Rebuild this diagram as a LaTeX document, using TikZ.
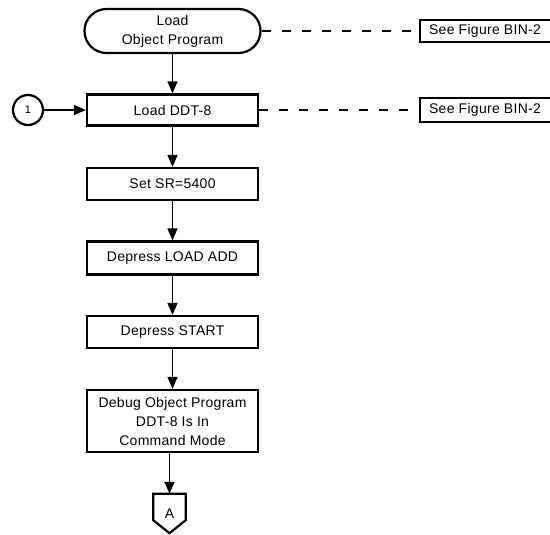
\documentclass[tikz,border=0pt]{standalone}
\usepackage{fontspec}
\setmainfont[LetterSpace=2]{Liberation Sans}
\usetikzlibrary{arrows.meta,calc}

\begin{document}
\begin{tikzpicture}[x=1pt, y=-1pt, font=\fontsize{14}{19}\selectfont,
  flowbox/.style={draw, line width=2.2pt, minimum width=171pt,
    minimum height=32pt, align=center, inner sep=0pt},
  termbox/.style={flowbox, minimum width=176pt, minimum height=44pt,
    rounded corners=22pt},
  refbox/.style={minimum width=130pt, minimum height=22pt, inner sep=0pt},
  flow/.style={line width=1.5pt, -{Triangle[length=12pt,width=10pt]}},
  seeline/.style={line width=1.5pt, dash pattern=on 9pt off 11pt}]

  % page frame (550 x 535)
  \useasboundingbox (0,0) rectangle (550,535);

  % -------------------------------------------------------
  % Main column, x = 172.5
  % -------------------------------------------------------
  \node[termbox] (obj) at (172.5, 31) {Load\\Object Program};
  \node[flowbox, minimum height=31pt] (ddt) at (172.5, 110) {Load DDT-8};
  \node[flowbox] (sr) at (172.5, 184) {Set SR=5400};
  \node[flowbox, minimum height=33pt] (ldadd) at (172.5, 258) {Depress LOAD ADD};
  \node[flowbox] (start) at (172.5, 332) {Depress START};
  \node[flowbox, minimum height=62pt] (debug) at (172.5, 421)
    {Debug Object Program\\DDT-8 Is In\\Command Mode};

  % Off-page connector (top 494, sides to 520, point at 533)
  \node[minimum width=32pt, minimum height=39pt, inner sep=0pt]
    (offA) at (169.5, 513.5) {A};
  \draw[line width=2.2pt, line join=miter]
    (offA.north west) -- (offA.north east)
    -- ($(offA.south east)+(0,-13)$) -- (offA.south)
    -- ($(offA.south west)+(0,-13)$) -- cycle;

  % Entry connector
  \node[draw, circle, line width=2.2pt, minimum size=30pt, inner sep=0pt,
    font=\fontsize{11}{13}\selectfont] (c1) at (28, 110) {1};

  % Flow arrows
  \draw[flow] (obj) -- (ddt);
  \draw[flow] (ddt) -- (sr);
  \draw[flow] (sr) -- (ldadd);
  \draw[flow] (ldadd) -- (start);
  \draw[flow] (start) -- (debug);
  \draw[flow] (debug.south -| offA) -- (offA.north);
  \draw[flow] (c1) -- (ddt);

  % -------------------------------------------------------
  % References (open at the right page edge)
  % -------------------------------------------------------
  \node[refbox] (ref1) at (485, 31) {See Figure BIN-2};
  \node[refbox, minimum height=23pt] (ref2) at (485, 110) {See Figure BIN-2};
  \draw[line width=2.2pt] (ref1.north east) -- (ref1.north west)
    -- (ref1.south west) -- (ref1.south east);
  \draw[line width=2.2pt] (ref2.north east) -- (ref2.north west)
    -- (ref2.south west) -- (ref2.south east);

  \draw[seeline] (obj) -- (ref1);
  \draw[seeline] (ddt) -- (ref2);

\end{tikzpicture}
\end{document}
